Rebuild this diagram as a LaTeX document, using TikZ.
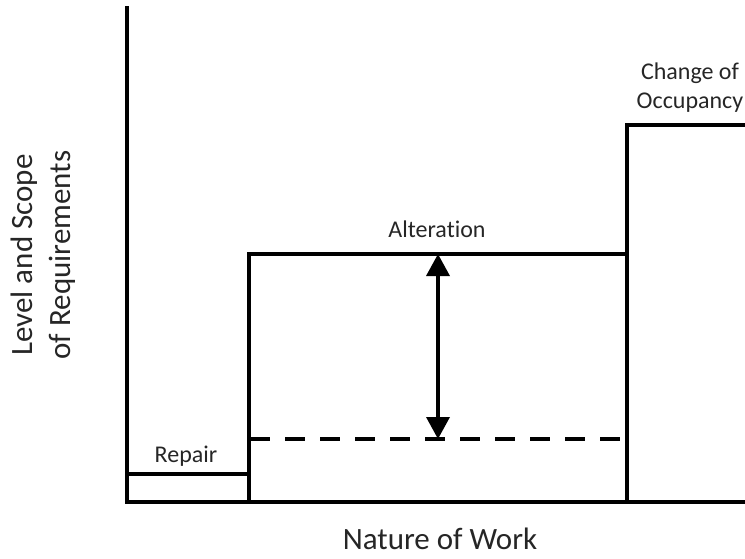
\documentclass[tikz,border=0pt]{standalone}
\usepackage{fontspec}
\setmainfont{Carlito}[Ligatures=CommonOff]
\usetikzlibrary{arrows.meta}
\tikzset{
  frame/.style={line width=3.6pt, black},
  levelline/.style={line width=3.6pt, black, dash pattern=on 20pt off 15pt},
  scopearrow/.style={line width=3.6pt, black, {Triangle[width=23pt,length=22pt]}-{Triangle[width=23pt,length=22pt]}},
  worklabel/.style={text=black!85, font=\fontsize{24}{29}\selectfont, inner sep=0pt},
  axislabel/.style={text=black!85, font=\fontsize{31}{38}\selectfont, inner sep=0pt}
}
\begin{document}
\begin{tikzpicture}[x=1pt, y=-1pt]
    \useasboundingbox (0,0) rectangle (745,558);
\draw[frame] (127, 6) -- (127, 502) -- (745, 502);
\draw[frame] (127, 474) -- (249, 474);
\draw[frame] (249, 502) -- (249, 254) -- (627, 254);
\draw[frame] (627, 502) -- (627, 125) -- (745, 125);
\draw[levelline] (250, 439) -- (621, 439);
\coordinate (scopetop) at (438, 254);
\coordinate (scopebot) at (438, 439);
\draw[scopearrow] (scopebot) -- (scopetop);
\node[worklabel, anchor=base] (repair) at (186, 462) {Repair};
\node[worklabel, anchor=base] (alteration) at (437, 237) {Alteration};
\node[worklabel, align=center] (occupancy) at (690, 88) {Change of\\Occupancy};
\node[axislabel, anchor=base] (nature) at (440, 549) {Nature of Work};
\node[axislabel, rotate=90, align=center] (level) at (43, 255) {Level and Scope\\of Requirements};
    \end{tikzpicture}
\end{document}
